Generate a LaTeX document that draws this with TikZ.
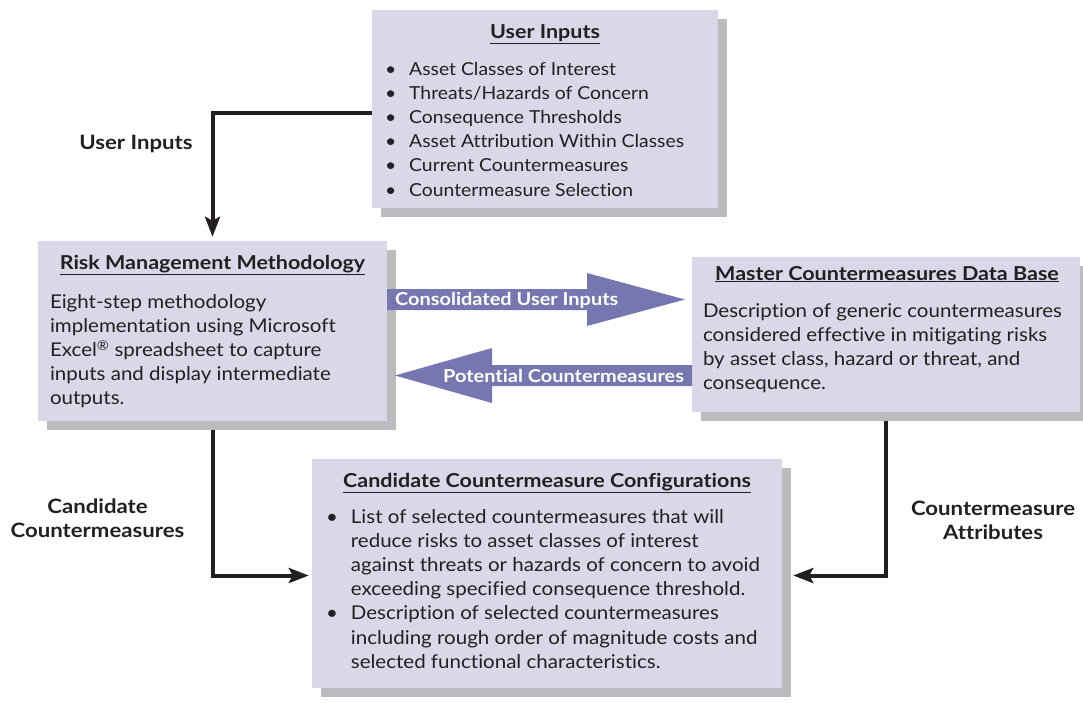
\documentclass[tikz,border=0pt]{standalone}
\usepackage{fontspec}
\setmainfont{Lato}[FakeStretch=1.08, Ligatures=NoCommon]
\newfontfamily\headf{Lato}[FakeStretch=1.12, Ligatures=NoCommon]
\usetikzlibrary{arrows.meta,shadows,backgrounds}
\definecolor{boxfill}{HTML}{D9D8E9}
\definecolor{shadowc}{HTML}{BBBCBF}
\definecolor{bigarrow}{HTML}{7676B0}
\definecolor{ink}{HTML}{231F20}
\newcommand{\bodyfont}{\fontsize{19}{24.2}\selectfont}
\newcommand{\listfont}{\fontsize{17.9}{24.2}\selectfont}
\newcommand{\headfont}{\headf\fontsize{19.2}{24.2}\selectfont\bfseries}
\newcommand{\lblfont}{\headf\fontsize{19.8}{24}\selectfont\bfseries}
\newcommand{\fatfont}{\headf\fontsize{17.8}{24}\selectfont\bfseries}
\tikzset{
  box/.style={rectangle, fill=boxfill, draw=none, inner sep=0pt,
    drop shadow={shadow xshift=9pt, shadow yshift=-9pt, fill=shadowc, opacity=1}},
  txt/.style={inner sep=0pt, outer sep=0pt, text=ink, font=\bodyfont, anchor=base west},
  head/.style={inner sep=0pt, outer sep=0pt, text=ink, font=\headfont, anchor=base},
  lbl/.style={inner sep=0pt, outer sep=0pt, text=ink, font=\lblfont, anchor=base},
  conn/.style={draw=ink, line width=4pt, -{Stealth[length=20pt,width=15pt,inset=4pt]}},
  fat/.style={fill=bigarrow, draw=none},
  fattxt/.style={inner sep=0pt, text=white, font=\fatfont, anchor=base west},
}
\begin{document}
\begin{tikzpicture}[x=1pt,y=-1pt]
\useasboundingbox (0,0) rectangle (1083,702);

% boxes
\node[box, minimum width=346pt, minimum height=198pt] (ui) at (545,109) {};
\node[box, minimum width=349pt, minimum height=180pt] (risk) at (212.5,331) {};
\node[box, minimum width=388pt, minimum height=155pt] (master) at (886,334.5) {};
\node[box, minimum width=470pt, minimum height=229pt] (cand) at (547,573.5) {};

% connectors
\begin{scope}[on background layer]
\draw[conn] ([yshift=-4pt]ui.west) -| ([yshift=4pt]risk.north);
\draw[conn] (risk.south) |- ([xshift=-3pt,yshift=-2pt]cand.west);
\draw[conn] (master.south) |- ([xshift=11pt,yshift=-2pt]cand.east);
\end{scope}

% fat arrows
\path[fat] (387,289) -- (587,289) -- (587,273) -- (685,299.5) -- (587,326) -- (587,310) -- (387,310) -- cycle;
\node[fattxt] (cons) at (395,305) {Consolidated User Inputs};
\path[fat] (692,365) -- (492,365) -- (492,348) -- (395,375.5) -- (492,403) -- (492,386) -- (692,386) -- cycle;
\node[fattxt] (pot) at (443,382) {Potential Countermeasures};

% User inputs box text
\node[head] (uih) at (545,38.5) {\underline{User Inputs}};
\node[txt, font=\listfont] (uil) at (385,75) {%
\begin{tabular}[t]{@{}l@{\hspace{13pt}}l@{}}
\textbullet & Asset Classes of Interest\\
\textbullet & Threats/Hazards of Concern\\
\textbullet & Consequence Thresholds\\
\textbullet & Asset Attribution Within Classes\\
\textbullet & Current Countermeasures\\
\textbullet & Countermeasure Selection
\end{tabular}};

% Risk box text
\node[head] (riskh) at (212.5,269) {\underline{Risk Management Methodology}};
\node[txt] (riskb) at (50,308) {%
\begin{tabular}[t]{@{}l@{}}
Eight-step methodology\\
implementation using Microsoft\\
Excel\textsuperscript{\textregistered} spreadsheet to capture\\
inputs and display intermediate\\
outputs.
\end{tabular}};

% Master box text
\node[head] (masterh) at (887,280) {\underline{Master Countermeasures Data Base}};
\node[txt] (masterb) at (703,317) {%
\begin{tabular}[t]{@{}l@{}}
Description of generic countermeasures\\
considered effective in mitigating risks\\
by asset class, hazard or threat, and\\
consequence.
\end{tabular}};

% Candidate box text
\node[head] (candh) at (547,487) {\underline{Candidate Countermeasure Configurations}};
\node[txt] (candl) at (326,523) {%
\begin{tabular}[t]{@{}l@{\hspace{13pt}}l@{}}
\textbullet & List of selected countermeasures that will\\
 & reduce risks to asset classes of interest\\
 & against threats or hazards of concern to avoid\\
 & exceeding specified consequence threshold.\\
\textbullet & Description of selected countermeasures\\
 & including rough order of magnitude costs and\\
 & selected functional characteristics.
\end{tabular}};

% connector labels
\node[lbl] (l1) at (136,149) {User Inputs};
\node[lbl] (l2) at (97.5,513) {\begin{tabular}[t]{@{}c@{}}Candidate\\Countermeasures\end{tabular}};
\node[lbl] (l3) at (993,515) {\begin{tabular}[t]{@{}c@{}}Countermeasure\\Attributes\end{tabular}};
\end{tikzpicture}
\end{document}
